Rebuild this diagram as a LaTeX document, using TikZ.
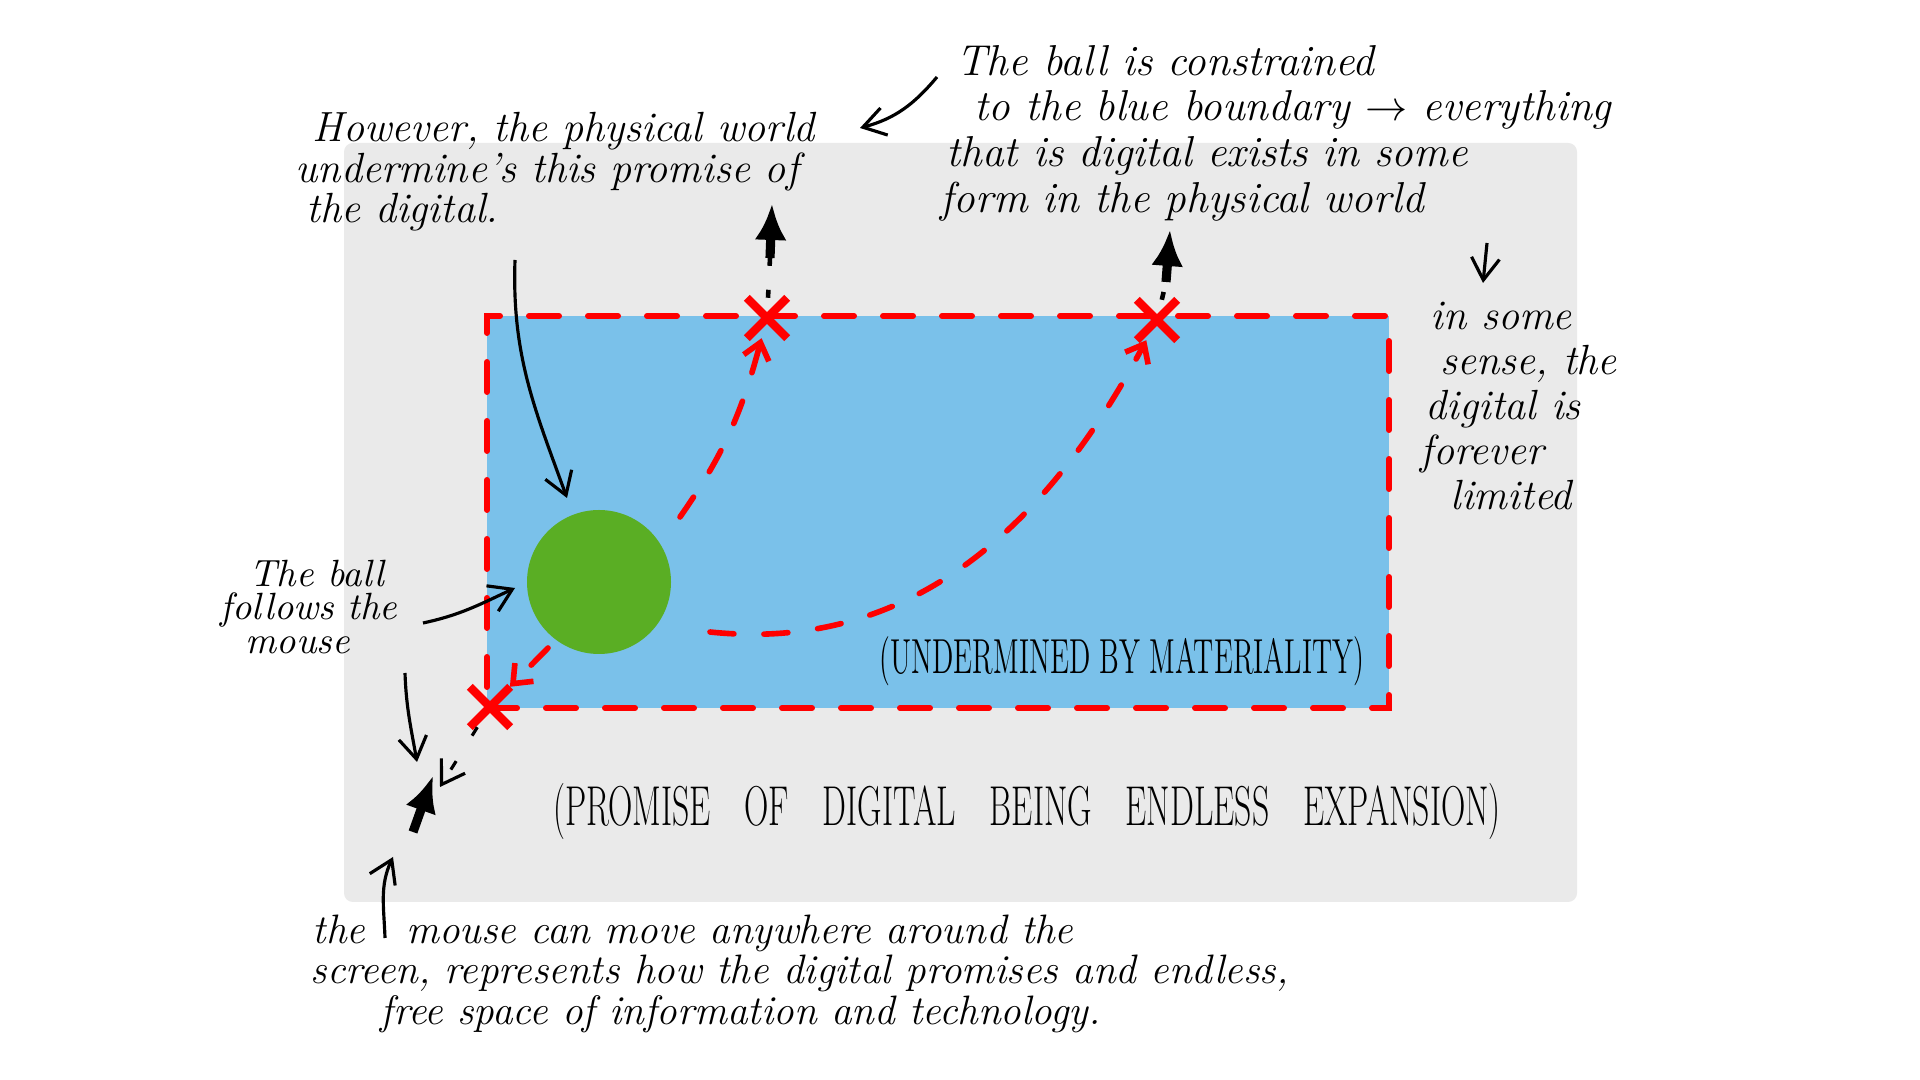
\documentclass[tikz,border=0pt]{standalone}
\usepackage{graphicx}
\usetikzlibrary{arrows.meta,shapes.misc}
\definecolor{paper}{RGB}{234,234,234}
\definecolor{screenblue}{RGB}{122,193,234}
\definecolor{ballgreen}{RGB}{90,174,36}

\begin{document}
\begin{tikzpicture}[>={Straight Barb[length=2.2mm,width=2.8mm]},
  note/.style={font=\itshape\fontsize{12}{11.5}\selectfont,align=left,inner sep=0pt},
  caps/.style={font=\fontsize{14}{14}\selectfont,inner sep=0pt},
  boundary/.style={draw=red,line width=1.7pt,line cap=round,dash pattern=on 3mm off 2.9mm},
  trail/.style={draw=red,line width=1.6pt,line cap=round,dash pattern=on 2.4mm off 3mm,
    ->,>={Straight Barb[length=1.6mm,width=2.6mm]}},
  escape/.style={black,line width=1.3pt,dash pattern=on 0.8mm off 2.4mm},
  leak/.style={black,line width=0.9pt,dash pattern=on 1mm off 3mm,->},
  cursor/.style={black,line width=2.6pt,-{Latex[length=3.6mm,width=3.2mm]}},
  pointer/.style={black,line width=0.9pt,->},
  xmark/.style={cross out,draw=red,line width=2.4pt,minimum size=3.2mm,inner sep=0pt}]
  \useasboundingbox (0,0) rectangle (19.2,10.8);

  % the whole screen and the bounded part of it
  \node[fill=paper,rounded corners=2.5pt,minimum width=12.33cm,minimum height=7.59cm] (page) at (9.605,5.575) {};
  \node[boundary,fill=screenblue,minimum width=9.02cm,minimum height=3.92cm] (screen) at (9.38,5.68) {};
  \node[circle,fill=ballgreen,minimum size=1.44cm,inner sep=0pt] (ball) at (5.99,4.98) {};

  % where the ball hits the boundary
  \node[xmark] (x1) at (7.67,7.62) {};
  \node[xmark] (x2) at (11.57,7.60) {};
  \node[xmark] (x3) at (4.90,3.73) {};

  \coordinate (c1) at (6.80,5.63);
  \coordinate (c2) at (7.10,4.48);
  \coordinate (c3) at (5.48,4.32);
  \draw[trail] (c1) to[out=55,in=-105] (x1);
  \draw[trail] (c2) to[out=-6,in=-118] (x2);
  \draw[trail] (c3) -- (x3);

  \coordinate (s1) at (7.70,8.22);
  \coordinate (t1) at (7.72,8.76);
  \coordinate (s2) at (11.66,7.98);
  \coordinate (t2) at (11.70,8.50);
  \coordinate (t3) at (4.40,2.93);
  \draw[escape] (x1) -- (s1);
  \draw[cursor] (s1) -- (t1);
  \draw[escape] (x2) -- (s2);
  \draw[cursor] (s2) -- (t2);
  \draw[leak] (x3) -- (t3);

  \coordinate (m0) at (4.13,2.48);
  \coordinate (m1) at (4.33,3.04);
  \draw[cursor] (m0) -- (m1);

  % labels
  \node[note,anchor=west] (physical) at (2.95,9.08) {\hspace*{1.7mm}However, the physical world\\undermine's this promise of\\\hspace*{1.1mm}the digital.};
  \node[note,anchor=west,font=\itshape\fontsize{12.3}{13}\selectfont] (constrained) at (9.40,9.47)
    {\hspace*{1.6mm}The ball is constrained\\\hspace*{3.4mm}to the blue boundary $\rightarrow$ everything\\\hspace*{0.6mm}that is digital exists in some\\form in the physical world};
  \node[note,anchor=west,font=\itshape\fontsize{12}{12.8}\selectfont] (limited) at (14.20,6.74)
    {\hspace*{1mm}in some\\\hspace*{2mm}sense, the\\\hspace*{0.5mm}digital is\\forever\\\hspace*{3mm}limited};
  \node[note,anchor=west,font=\itshape\fontsize{10.8}{9.6}\selectfont] (follows) at (2.20,4.73)
    {\hspace*{2.9mm}The ball\\follows the\\\hspace*{2.5mm}mouse};
  \node[caps] (materiality) at (11.22,4.19) {\scalebox{0.58}[1]{(UNDERMINED BY MATERIALITY)}};
  \node[caps,font=\fontsize{16}{16}\selectfont] (promise) at (10.27,2.69)
    {\scalebox{0.6}[1]{(PROMISE\quad OF\quad DIGITAL\quad BEING\quad ENDLESS\quad EXPANSION)}};
  \node[note,anchor=west,font=\itshape\fontsize{11.7}{9.8}\selectfont] (anywhere) at (3.10,1.06)
    {\hspace*{0.2mm}the\quad mouse can move anywhere around the\\screen, represents how the digital promises and endless,\\\hspace*{7mm}free space of information and technology.};

  % pointers from the notes
  \coordinate (p0) at (5.15,8.20);
  \coordinate (p1) at (5.67,5.82);
  \coordinate (f0) at (4.23,4.57);
  \coordinate (f1) at (5.15,4.92);
  \coordinate (d0) at (4.05,4.07);
  \coordinate (d1) at (4.17,3.18);
  \coordinate (b0) at (3.85,1.42);
  \coordinate (b1) at (3.93,2.23);
  \coordinate (e0) at (9.37,10.03);
  \coordinate (e1) at (8.60,9.52);
  \coordinate (g0) at (14.87,8.37);
  \coordinate (g1) at (14.83,7.97);
  \draw[pointer] (p0) to[out=-92,in=110] (p1);
  \draw[pointer] (f0) to[out=12,in=-155] (f1);
  \draw[pointer] (d0) to[out=-88,in=100] (d1);
  \draw[pointer] (b0) to[out=92,in=-115] (b1);
  \draw[pointer] (e0) to[out=-130,in=15] (e1);
  \draw[pointer] (g0) -- (g1);
\end{tikzpicture}
\end{document}
